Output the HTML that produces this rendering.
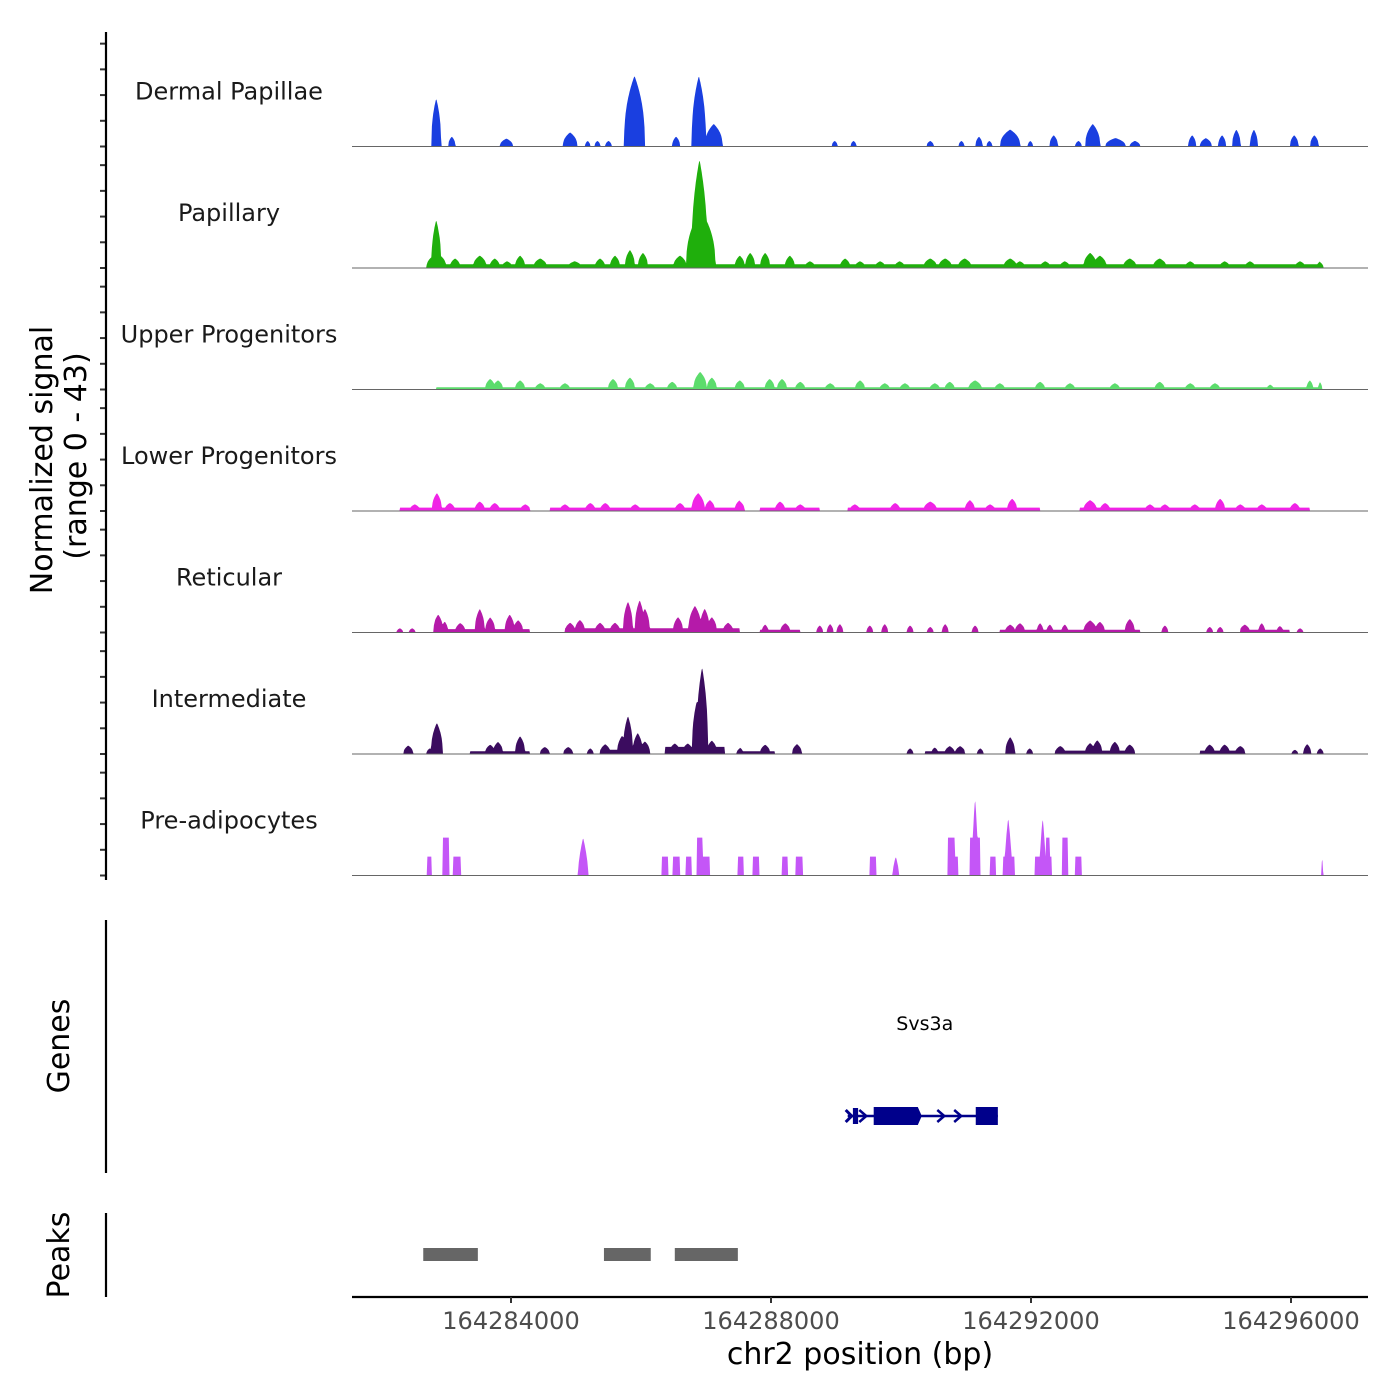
<!DOCTYPE html>
<html><head><meta charset="utf-8"><style>
html,body{margin:0;padding:0;background:#fff;width:1400px;height:1400px;overflow:hidden}
svg text{font-family:"DejaVu Sans","Liberation Sans",sans-serif}
</style></head><body>
<svg id="chart" width="1400" height="1400" viewBox="0 0 1400 1400" xmlns="http://www.w3.org/2000/svg">
<g id="tracks"></g>
<g id="axes">
  <line x1="106" y1="32" x2="106" y2="880" stroke="#000" stroke-width="2.2"/>
  <line x1="106" y1="920" x2="106" y2="1173" stroke="#000" stroke-width="2.2"/>
  <line x1="106" y1="1213" x2="106" y2="1297" stroke="#000" stroke-width="2.2"/>
  <line x1="352" y1="1297" x2="1368" y2="1297" stroke="#000" stroke-width="2.2"/>
  <text transform="translate(52,460) rotate(-90)" text-anchor="middle" font-size="30">Normalized signal</text>
  <text transform="translate(86,456) rotate(-90)" text-anchor="middle" font-size="30">(range 0 - 43)</text>
  <text transform="translate(69,1046) rotate(-90)" text-anchor="middle" font-size="30">Genes</text>
  <text transform="translate(69,1255) rotate(-90)" text-anchor="middle" font-size="30">Peaks</text>
  <text x="860" y="1364" text-anchor="middle" font-size="30">chr2 position (bp)</text>
</g>
<g id="genes"></g>
<g id="peaks"></g>
</svg>
<script>
// positions in kb offset from 164,280,000
const trackNames = ["Dermal Papillae","Papillary","Upper Progenitors","Lower Progenitors","Reticular","Intermediate","Pre-adipocytes"];
const trackColors = ["#1a3fe0","#1faf0c","#5cdc6c","#f023e6","#b51aa9","#3b0c5f","#c456f7"];
// peaks: [centerKb, widthKb, height]
const peaksDermal = [[2.85,0.15,17],[3.09,0.11,3.5],[3.93,0.2,2.8],[4.91,0.22,5],[5.18,0.08,2],[5.33,0.09,2],[5.5,0.1,2],[5.9,0.32,25],[6.54,0.12,3.5],[6.89,0.22,25],[7.12,0.27,8],[8.98,0.09,2],[9.27,0.09,2],[10.45,0.11,2],[10.93,0.09,2],[11.2,0.11,3.5],[11.36,0.09,2],[11.68,0.31,6],[11.99,0.08,2],[12.35,0.13,4],[12.73,0.1,2],[12.95,0.23,8],[13.3,0.31,3],[13.6,0.16,2],[14.48,0.12,4],[14.69,0.18,3],[14.94,0.12,4],[15.16,0.13,6],[15.43,0.12,6],[16.05,0.13,4],[16.36,0.13,4]];
const peaksPapillary = [[2.85,0.15,17],[2.85,0.3,5],[3.14,0.15,3],[3.52,0.2,4],[3.75,0.15,3],[3.94,0.15,2],[4.14,0.15,4],[4.45,0.2,3],[4.98,0.2,2],[5.37,0.15,3],[5.6,0.15,4],[5.83,0.15,6],[6.03,0.15,5],[6.6,0.2,4],[6.9,0.25,38],[6.92,0.45,20],[7.52,0.15,4],[7.68,0.15,5],[7.91,0.15,5],[8.29,0.15,4],[8.6,0.15,2],[9.14,0.15,3],[9.37,0.15,2],[9.68,0.15,2],[9.98,0.15,2],[10.45,0.2,3],[10.68,0.2,3],[10.98,0.2,3],[11.68,0.2,3],[11.83,0.15,2],[12.22,0.15,2],[12.52,0.15,2],[12.91,0.2,5],[13.06,0.2,4],[13.52,0.2,3],[13.98,0.2,3],[14.45,0.15,2],[14.98,0.15,2],[15.37,0.15,2],[16.14,0.15,2],[16.45,0.1,2]];
const peaksUpper = [[3.68,0.15,3.5],[3.8,0.15,3],[4.14,0.15,3],[4.45,0.15,2],[4.83,0.15,2],[5.57,0.15,3.5],[5.83,0.15,4],[6.14,0.15,2],[6.48,0.15,2.5],[6.91,0.2,6],[7.09,0.15,4],[7.52,0.15,3],[7.98,0.15,3.5],[8.17,0.15,3.5],[8.45,0.15,2.5],[8.91,0.15,2],[9.37,0.15,3],[9.75,0.15,2],[10.06,0.15,2],[10.52,0.15,2],[10.75,0.15,2.5],[11.14,0.2,3],[11.52,0.15,2],[12.14,0.15,2.5],[12.6,0.15,2],[13.29,0.15,2],[13.98,0.15,2.5],[14.45,0.15,2],[14.83,0.15,2],[15.68,0.1,1.5],[16.29,0.1,3],[16.45,0.06,2.5]];
const peaksLower = [[2.52,0.15,2],[2.86,0.15,6],[3.06,0.15,2.5],[3.52,0.15,3],[3.75,0.15,2.5],[4.22,0.15,2],[4.83,0.15,2],[5.22,0.15,2.5],[5.45,0.15,2.5],[5.91,0.15,2],[6.6,0.15,2.5],[6.88,0.2,6],[7.06,0.15,3.5],[7.52,0.15,3.5],[8.14,0.15,3],[8.45,0.15,2],[9.29,0.15,2],[9.91,0.15,2.5],[10.45,0.2,3],[11.06,0.15,3.5],[11.37,0.15,2],[11.71,0.15,4],[12.91,0.2,3.5],[13.14,0.15,2.5],[13.83,0.15,2],[14.06,0.15,2],[14.52,0.15,2],[14.91,0.15,4],[15.22,0.15,2],[15.55,0.15,2],[16.06,0.15,2.5]];
const peaksReticular = [[2.29,0.1,1.5],[2.48,0.1,1.5],[2.88,0.15,6],[2.98,0.1,3.5],[3.22,0.15,3],[3.52,0.15,8],[3.68,0.15,5],[3.98,0.15,6],[4.11,0.15,4],[4.91,0.15,3],[5.06,0.15,4],[5.37,0.15,3],[5.6,0.15,3],[5.8,0.15,10.5],[5.98,0.15,11],[6.06,0.15,8],[6.57,0.15,5],[6.83,0.2,9],[6.98,0.15,8],[7.09,0.15,5],[7.34,0.15,3],[7.91,0.1,2.5],[8.22,0.15,3],[8.75,0.1,2.5],[8.91,0.1,3],[9.06,0.1,3],[9.52,0.1,2.5],[9.75,0.1,3],[10.14,0.1,2.5],[10.45,0.1,2],[10.68,0.1,3],[11.14,0.1,2.5],[11.68,0.15,2.5],[11.83,0.15,3],[12.14,0.1,3],[12.29,0.1,2.5],[12.52,0.1,2.5],[12.91,0.2,4],[13.06,0.15,3.5],[13.52,0.15,4.5],[14.06,0.1,2.5],[14.75,0.1,2],[14.91,0.1,2],[15.29,0.15,2.5],[15.55,0.1,3],[15.83,0.1,2],[16.14,0.1,1.5]];
const peaksIntermediate = [[2.42,0.15,3],[2.75,0.1,2],[2.86,0.18,11],[3.68,0.15,3],[3.8,0.15,4],[4.14,0.15,6],[4.52,0.15,2.5],[4.88,0.15,2.5],[5.22,0.1,2],[5.45,0.15,3],[5.71,0.15,6],[5.8,0.15,13],[5.95,0.15,7],[6.06,0.15,4],[6.52,0.15,3],[6.72,0.15,3],[6.86,0.15,18],[6.94,0.18,30],[7.09,0.15,4],[7.52,0.1,2],[7.91,0.15,3],[8.4,0.15,3.5],[10.14,0.1,2],[10.52,0.1,2],[10.75,0.15,2.5],[10.91,0.15,2.5],[11.22,0.1,2],[11.68,0.15,6],[11.98,0.1,2],[12.45,0.15,2.5],[12.91,0.15,3.5],[13.02,0.15,4.5],[13.29,0.15,4],[13.52,0.15,3],[14.75,0.15,3],[14.98,0.15,3],[15.22,0.15,2.5],[16.06,0.1,1.5],[16.25,0.12,3.5],[16.45,0.1,2]];
const peaksPreadipo = [[5.11,0.16,13.4],[9.92,0.1,6.7],[11.14,0.1,27.6],[11.65,0.12,20.5],[12.18,0.1,20.5],[16.48,0.03,6.7]];
// floors / flat bins: [startKb, endKb, height]
const floorsDermal = [];
const floorsPapillary = [[2.9,16.45,1.3]];
const floorsUpper = [[2.85,16.45,0.8]];
const floorsLower = [[2.29,4.29,1.2],[4.6,7.52,1.2],[7.83,8.75,1.2],[9.18,12.14,1.2],[12.75,16.29,1.2]];
const floorsReticular = [[2.83,4.29,1.2],[4.83,7.52,1.5],[7.83,8.45,1],[11.52,13.68,1],[15.22,15.98,1]];
const floorsIntermediate = [[3.37,4.29,1],[5.37,6.14,1.5],[6.37,7.29,2.5],[7.52,8.06,1],[10.37,10.98,1],[12.37,13.6,1.2],[14.6,15.29,1.2]];
const floorsPreadipo = [[2.71,2.78,6.7],[2.95,3.05,13.4],[3.11,3.23,6.7],[6.32,6.42,6.7],[6.49,6.6,6.7],[6.69,6.78,6.7],[6.86,6.95,13.4],[6.95,7.06,6.7],[7.49,7.58,6.7],[7.72,7.82,6.7],[8.17,8.26,6.7],[8.38,8.49,6.7],[9.52,9.62,6.7],[10.72,10.83,13.4],[10.83,10.88,6.7],[11.06,11.22,13.4],[11.37,11.46,6.7],[11.57,11.75,6.7],[12.06,12.32,6.7],[12.23,12.29,13.4],[12.48,12.57,13.4],[12.68,12.78,6.7]];
const xTicks = [164284000,164288000,164292000,164296000];
const yTickValues = [0,9.1,18.2,27.3,36.4];
const geneName = "Svs3a";
const geneSpan = [9.18,11.49];
const geneExons = [[9.26,9.34],[9.58,10.32],[11.15,11.49]];
const geneArrows = [9.42,10.62,10.88];
const peakRegions = [[2.65,3.49],[5.43,6.15],[6.52,7.49]];

const allPeaks=[peaksDermal,peaksPapillary,peaksUpper,peaksLower,peaksReticular,peaksIntermediate,peaksPreadipo];
const allFloors=[floorsDermal,floorsPapillary,floorsUpper,floorsLower,floorsReticular,floorsIntermediate,floorsPreadipo];
const NS='http://www.w3.org/2000/svg';
const X0=352,X1=1368,TRACK_H=121.5,FIRST_BASE=146.5,PXU=121.5/43;
function xKb(kb){return 511+(kb-4)*65;}
function xBp(bp){return xKb((bp-164280000)/1000);}
function yVal(i,v){return FIRST_BASE+i*TRACK_H-v*PXU;}
function mk(tag,attrs,parent){const e=document.createElementNS(NS,tag);for(const k in attrs)e.setAttribute(k,attrs[k]);parent.appendChild(e);return e;}
const gT=document.getElementById('tracks');
const kbMin=(X0-511)/65+4,kbMax=(X1-511)/65+4,step=0.01;
for(let i=0;i<7;i++){
  const base=FIRST_BASE+i*TRACK_H;
  let d='M'+X0+','+base;
  for(let kb=kbMin;kb<=kbMax;kb+=step){
    let v=0;
    for(const f of allFloors[i]) if(kb>=f[0]&&kb<=f[1]) v=Math.max(v,f[2]);
    let s=0;
    for(const p of allPeaks[i]){const r=Math.abs(kb-p[0])/(p[1]/2);if(r<1)s=Math.max(s,p[2]*Math.pow(1-r,i==6?0.6:0.4));}
    v=Math.max(v,s+(s>0&&i<6?v*0.3:0));
    d+=' L'+xKb(kb).toFixed(1)+','+yVal(i,v).toFixed(1);
  }
  d+=' L'+X1+','+base+' Z';
  const a=mk('path',{d:d,fill:trackColors[i]},gT);
  
  
  const bl=mk('line',{x1:X0,x2:X1,y1:base,y2:base,stroke:'#666','stroke-width':1},gT);
  
  
  const lb=mk('text',{x:229,y:base-47,'text-anchor':'middle','font-size':24,fill:'#1a1a1a'},gT);
  lb.textContent=trackNames[i];
  
  
  for(const tv of yTickValues){
    const y=base-tv*PXU;
    const t=mk('line',{x1:100,x2:106,y1:y,y2:y,stroke:'#333','stroke-width':2},gT);
    
    
  }
}
const gA=document.getElementById('axes');
for(const tb of xTicks){
  const x=xBp(tb);
  const t=mk('line',{x1:x,x2:x,y1:1297,y2:1303,stroke:'#333','stroke-width':2},gA);
  
  
  const l=mk('text',{x:x,y:1329,'text-anchor':'middle','font-size':24,fill:'#4d4d4d'},gA);
  l.textContent=tb;
  
  
}
const gG=document.getElementById('genes');
const gc='#00008b',gy=1116;
const gl=mk('line',{x1:xKb(geneSpan[0]),x2:xKb(geneSpan[1]),y1:gy,y2:gy,stroke:gc,'stroke-width':2.5},gG);


geneExons.forEach((e,j)=>{
  const x1=xKb(e[0]),x2=xKb(e[1]),h=j==0?8:9;
  const pts=j==1?`${x1},${gy-h} ${x2-4},${gy-h} ${x2},${gy} ${x2-4},${gy+h} ${x1},${gy+h}`:`${x1},${gy-h} ${x2},${gy-h} ${x2},${gy+h} ${x1},${gy+h}`;
  const r=mk('polygon',{points:pts,fill:gc},gG);
  
  
});
const xs=xKb(geneSpan[0]);
const st=mk('path',{d:`M${xs-2},${gy-6} L${xs+4},${gy} L${xs-2},${gy+6}`,fill:'none',stroke:gc,'stroke-width':3},gG);


for(const a of geneArrows){
  const x=xKb(a);
  const c=mk('path',{d:`M${x-4},${gy-6} L${x+3},${gy} L${x-4},${gy+6}`,fill:'none',stroke:gc,'stroke-width':2.5},gG);
  
  
}
const gn=mk('text',{x:(xKb(geneSpan[0])+xKb(geneSpan[1]))/2+2,y:1030,'text-anchor':'middle','font-size':19,fill:'#000'},gG);
gn.textContent=geneName;


const gP=document.getElementById('peaks');
for(const p of peakRegions){
  const r=mk('rect',{x:xKb(p[0]),y:1248,width:xKb(p[1])-xKb(p[0]),height:13,fill:'#666'},gP);
  
  
}
</script>
</body></html>
